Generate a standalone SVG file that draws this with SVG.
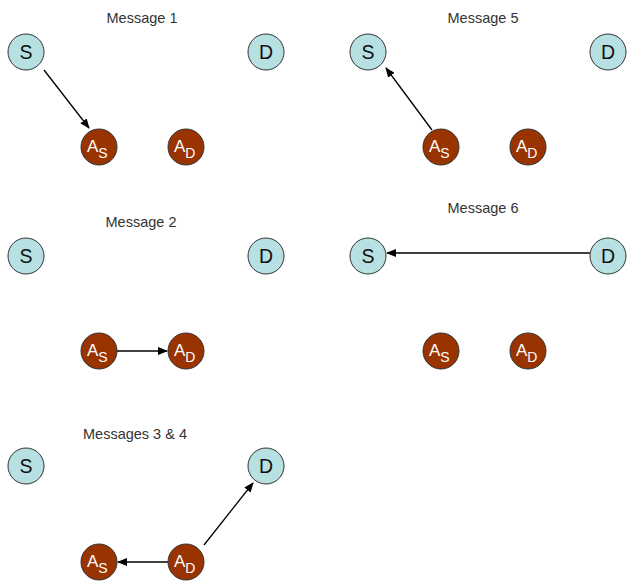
<svg xmlns="http://www.w3.org/2000/svg" width="628" height="583" viewBox="0 0 628 583">
  <style>
    .title { font-family: "Liberation Sans", Arial, sans-serif; font-size: 14.5px; fill: #333; text-anchor: middle; }
    .host { fill: #b7e0e2; stroke: #333; stroke-width: 1; }
    .agent { fill: #993300; stroke: #333; stroke-width: 1; }
    .hl { font-family: "Liberation Sans", Arial, sans-serif; font-size: 19.5px; fill: #111; text-anchor: middle; }
    .al { font-family: "Liberation Sans", Arial, sans-serif; font-size: 17px; fill: #fff; }
    .sub { font-size: 14px; }
    .conn line { stroke: #000; stroke-width: 1.3; marker-end: url(#arr); }
  </style>
  <defs>
    <marker id="arr" markerWidth="10" markerHeight="8" refX="9" refY="4" orient="auto" markerUnits="userSpaceOnUse">
      <path d="M0,0 L10,4 L0,8 z" fill="#000"/>
    </marker>
  </defs>

  <!-- panel titles -->
  <text class="title" x="142" y="23">Message 1</text>
  <text class="title" x="483" y="23">Message 5</text>
  <text class="title" x="141" y="227">Message 2</text>
  <text class="title" x="483" y="213">Message 6</text>
  <text class="title" x="135" y="439">Messages 3 &amp; 4</text>

  <!-- connectors -->
  <g id="connectors" class="conn">
    <line x1="44" y1="70" x2="89" y2="128"/>
    <line x1="432" y1="130" x2="386" y2="68"/>
    <line x1="117" y1="351" x2="167" y2="351"/>
    <line x1="590" y1="253" x2="387" y2="253"/>
    <line x1="204" y1="545" x2="253" y2="483"/>
    <line x1="168" y1="562" x2="118" y2="562"/>
  </g>

  <!-- Message 1 -->
  <g id="p1-S"><circle class="host" cx="26" cy="52" r="18"/><text class="hl" x="26" y="59">S</text></g>
  <g id="p1-D"><circle class="host" cx="266" cy="52" r="18"/><text class="hl" x="266" y="59">D</text></g>
  <g id="p1-AS"><circle class="agent" cx="99" cy="147" r="18"/><text class="al" x="87" y="152">A<tspan class="sub" dy="6">S</tspan></text></g>
  <g id="p1-AD"><circle class="agent" cx="186" cy="147" r="18"/><text class="al" x="174" y="152">A<tspan class="sub" dy="6">D</tspan></text></g>

  <!-- Message 5 -->
  <g id="p5-S"><circle class="host" cx="368" cy="52" r="18"/><text class="hl" x="368" y="59">S</text></g>
  <g id="p5-D"><circle class="host" cx="608" cy="52" r="18"/><text class="hl" x="608" y="59">D</text></g>
  <g id="p5-AS"><circle class="agent" cx="441" cy="147" r="18"/><text class="al" x="429" y="152">A<tspan class="sub" dy="6">S</tspan></text></g>
  <g id="p5-AD"><circle class="agent" cx="528" cy="147" r="18"/><text class="al" x="516" y="152">A<tspan class="sub" dy="6">D</tspan></text></g>

  <!-- Message 2 -->
  <g id="p2-S"><circle class="host" cx="26" cy="256" r="18"/><text class="hl" x="26" y="263">S</text></g>
  <g id="p2-D"><circle class="host" cx="266" cy="256" r="18"/><text class="hl" x="266" y="263">D</text></g>
  <g id="p2-AS"><circle class="agent" cx="99" cy="351" r="18"/><text class="al" x="87" y="356">A<tspan class="sub" dy="6">S</tspan></text></g>
  <g id="p2-AD"><circle class="agent" cx="186" cy="351" r="18"/><text class="al" x="174" y="356">A<tspan class="sub" dy="6">D</tspan></text></g>

  <!-- Message 6 -->
  <g id="p6-S"><circle class="host" cx="368" cy="256" r="18"/><text class="hl" x="368" y="263">S</text></g>
  <g id="p6-D"><circle class="host" cx="608" cy="256" r="18"/><text class="hl" x="608" y="263">D</text></g>
  <g id="p6-AS"><circle class="agent" cx="441" cy="351" r="18"/><text class="al" x="429" y="356">A<tspan class="sub" dy="6">S</tspan></text></g>
  <g id="p6-AD"><circle class="agent" cx="528" cy="351" r="18"/><text class="al" x="516" y="356">A<tspan class="sub" dy="6">D</tspan></text></g>

  <!-- Messages 3 & 4 -->
  <g id="p3-S"><circle class="host" cx="26" cy="466" r="18"/><text class="hl" x="26" y="473">S</text></g>
  <g id="p3-D"><circle class="host" cx="266" cy="466" r="18"/><text class="hl" x="266" y="473">D</text></g>
  <g id="p3-AS"><circle class="agent" cx="99" cy="562" r="18"/><text class="al" x="87" y="567">A<tspan class="sub" dy="6">S</tspan></text></g>
  <g id="p3-AD"><circle class="agent" cx="186" cy="562" r="18"/><text class="al" x="174" y="567">A<tspan class="sub" dy="6">D</tspan></text></g>
</svg>
